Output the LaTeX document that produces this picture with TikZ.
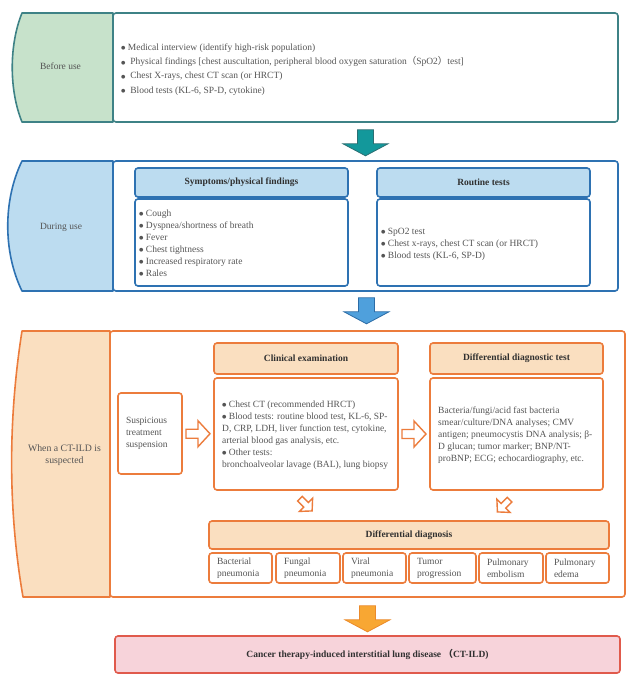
\documentclass[tikz,border=0pt]{standalone}
\usepackage{fontspec}
\setmainfont{Liberation Serif}
\newfontfamily\cjk{Noto Sans CJK SC}
\newfontfamily\dejavu{DejaVu Sans}
\newcommand{\bul}{\raisebox{0.6pt}{\dejavu\fontsize{5}{5}\selectfont ●}}
\usetikzlibrary{calc}
\definecolor{tealB}{HTML}{3E8286}
\definecolor{tealF}{HTML}{C7E2CB}
\definecolor{tealA}{HTML}{13989B}
\definecolor{tealAD}{HTML}{2B6F73}
\definecolor{blueB}{HTML}{2E72B2}
\definecolor{blueF}{HTML}{BCDCF0}
\definecolor{blueA}{HTML}{4FA0DC}
\definecolor{blueAD}{HTML}{2C6CA6}
\definecolor{orB}{HTML}{EC7C3C}
\definecolor{orF}{HTML}{FADFC0}
\definecolor{orA}{HTML}{F8A733}
\definecolor{orAD}{HTML}{EB8A2A}
\definecolor{pinkF}{HTML}{F7D3DA}
\definecolor{redB}{HTML}{E05A4C}
\definecolor{txt}{HTML}{555555}
\definecolor{hdr}{HTML}{303030}
\tikzset{
  openarrow/.pic={
    \draw[orB, line width=1.4pt, fill=white, line join=miter]
      (-12,-4.5) -- (0,-4.5) -- (0,-13) -- (12,0) -- (0,13) -- (0,4.5) -- (-12,4.5) -- cycle;
  },
  blockarrow/.pic={
    \path[pic actions, line width=0.8pt, line join=miter]
      (-8,0) -- (8,0) -- (8,14) -- (22.5,14) -- (0,26) -- (-22.5,14) -- (-8,14) -- cycle;
  }
}
\begin{document}
\begin{tikzpicture}[x=1pt,y=-1pt,
  txtbase/.style={text=txt, font=\fontsize{9.5}{12}\selectfont},
  frame/.style={draw, line width=1.6pt, rounded corners=3pt, inner sep=0pt},
  tealbox/.style={frame, draw=tealB, fill=white},
  bluebox/.style={frame, draw=blueB, fill=white},
  bluehdr/.style={frame, draw=blueB, fill=blueF, text=hdr, font=\fontsize{9.5}{12}\selectfont\bfseries},
  orbox/.style={frame, draw=orB, fill=white, txtbase},
  orhdr/.style={frame, draw=orB, fill=orF, text=hdr, font=\fontsize{9.5}{12}\selectfont\bfseries},
  finbox/.style={frame, draw=redB, fill=pinkF, text=hdr, font=\fontsize{9.5}{12}\selectfont\bfseries},
  dxbox/.style={orbox, minimum height=30, align=left},
  listtxt/.style={txtbase, align=left, anchor=west, inner sep=0pt},
  lbltxt/.style={txtbase, align=center, inner sep=0pt},
  sidebar/.style={line width=1.6pt, line join=round}
]
\useasboundingbox (0,0) rectangle (635,682);

% ---------- Section 1 ----------
\node[tealbox, minimum width=505, minimum height=109] (box1) at (365.5,67.5) {};
\draw[sidebar, draw=tealB, fill=tealF] (113,13) -- (22,13) .. controls (9,45) and (9,90) .. (22,122) -- (113,122) -- cycle;
\node[lbltxt] (l1) at (60.5,66) {Before use};
\node[listtxt, font=\fontsize{9.5}{14.3}\selectfont] (t1) at (121,69.5) {%
\bul\ Medical interview (identify high-risk population)\\
\bul\ \ Physical findings [chest auscultation, peripheral blood oxygen saturation{\cjk （}SpO2{\cjk ）}test]\\
\bul\ \ Chest X-rays, chest CT scan (or HRCT)\\
\bul\ \ Blood tests (KL-6, SP-D, cytokine)};

% ---------- Section 2 ----------
\node[bluebox, minimum width=505, minimum height=130] (box2) at (365.5,226) {};
\draw[sidebar, draw=blueB, fill=blueF] (113,161) -- (22,161) .. controls (3,200) and (3,252) .. (22,291) -- (113,291) -- cycle;
\node[lbltxt] (l2) at (61,227) {During use};
\node[bluehdr, minimum width=213, minimum height=29] (h21) at (241.5,182.5) {Symptoms/physical findings};
\node[bluebox, minimum width=213, minimum height=87] (b21) at (241.5,242.5) {};
\node[listtxt] (t21) at (139,243) {%
\bul\ Cough\\
\bul\ Dyspnea/shortness of breath\\
\bul\ Fever\\
\bul\ Chest tightness\\
\bul\ Increased respiratory rate\\
\bul\ Rales};
\node[bluehdr, minimum width=213, minimum height=29] (h22) at (483.5,182.5) {Routine tests};
\node[bluebox, minimum width=213, minimum height=87] (b22) at (483.5,242.5) {};
\node[listtxt] (t22) at (381,244) {%
\bul\ SpO2 test\\
\bul\ Chest x-rays, chest CT scan (or HRCT)\\
\bul\ Blood tests (KL-6, SP-D)};

% ---------- Section 3 ----------
\node[orbox, minimum width=515, minimum height=266] (box3) at (367.5,464) {};
\draw[sidebar, draw=orB, fill=orF] (110,331) -- (22,331) .. controls (8,420) and (8,510) .. (23,597) -- (110,597) -- cycle;
\node[lbltxt, font=\fontsize{9.8}{12.5}\selectfont] (l3) at (64.5,455) {When a CT-ILD is\\suspected};
\node[orbox, minimum width=64, minimum height=81, text width=48, align=left] (sus) at (150,433.5) {Suspicious\\treatment\\suspension};
\node[orhdr, minimum width=184, minimum height=31] (clh) at (306,358.5) {Clinical examination};
\node[orbox, minimum width=184, minimum height=112] (clb) at (306,434) {};
\node[listtxt] (tcl) at (222,435) {%
\bul\ Chest CT (recommended HRCT)\\
\bul\ Blood tests: routine blood test, KL-6, SP-\\
D, CRP, LDH, liver function test, cytokine,\\
arterial blood gas analysis, etc.\\
\bul\ Other tests:\\
bronchoalveolar lavage (BAL), lung biopsy};
\node[orhdr, minimum width=173, minimum height=31] (dfh) at (516.5,358.5) {Differential diagnostic test};
\node[orbox, minimum width=173, minimum height=112] (dfb) at (516.5,434) {};
\node[listtxt] (tdf) at (438,435) {%
Bacteria/fungi/acid fast bacteria\\
smear/culture/DNA analyses; CMV\\
antigen; pneumocystis DNA analysis; β-\\
D glucan; tumor marker; BNP/NT-\\
proBNP; ECG; echocardiography, etc.};
\node[orhdr, minimum width=400, minimum height=28] (dd) at (409,535) {Differential diagnosis};
\node[dxbox, minimum width=63, text width=47] (bac) at (240.5,568) {Bacterial\\pneumonia};
\node[dxbox, minimum width=64, text width=48] (fun) at (308,568) {Fungal\\pneumonia};
\node[dxbox, minimum width=63, text width=47] (vir) at (374.5,568) {Viral\\pneumonia};
\node[dxbox, minimum width=67, text width=51] (tum) at (442.5,568) {Tumor\\progression};
\node[dxbox, minimum width=64, text width=48] (emb) at (511,568) {Pulmonary\\embolism};
\node[dxbox, minimum width=63, text width=47] (ede) at (577.5,568) {Pulmonary\\edema};

% open arrows
\pic at ($(sus.east)!0.5!(clb.west)$) {openarrow};
\pic at ($(clb.east)!0.5!(dfb.west)$) {openarrow};
\pic[rotate=-45, scale=0.72] at ($(clb.south)+(0,14)$) {openarrow};
\pic[rotate=-135, scale=0.72] at ($(dfb.south)+(-13,15)$) {openarrow};

% ---------- Final ----------
\node[finbox, minimum width=505, minimum height=37] (fin) at (367.5,654.5) {Cancer therapy-induced interstitial lung disease {\cjk （}CT-ILD)};

% block arrows
\pic[draw=tealAD, fill=tealA] at ($(box1.south)+(0,7)$) {blockarrow};
\pic[draw=blueAD, fill=blueA] at ($(box2.south)+(1,6)$) {blockarrow};
\pic[draw=orAD, fill=orA] at ($(box3.south)+(0,8)$) {blockarrow};
\end{tikzpicture}
\end{document}
